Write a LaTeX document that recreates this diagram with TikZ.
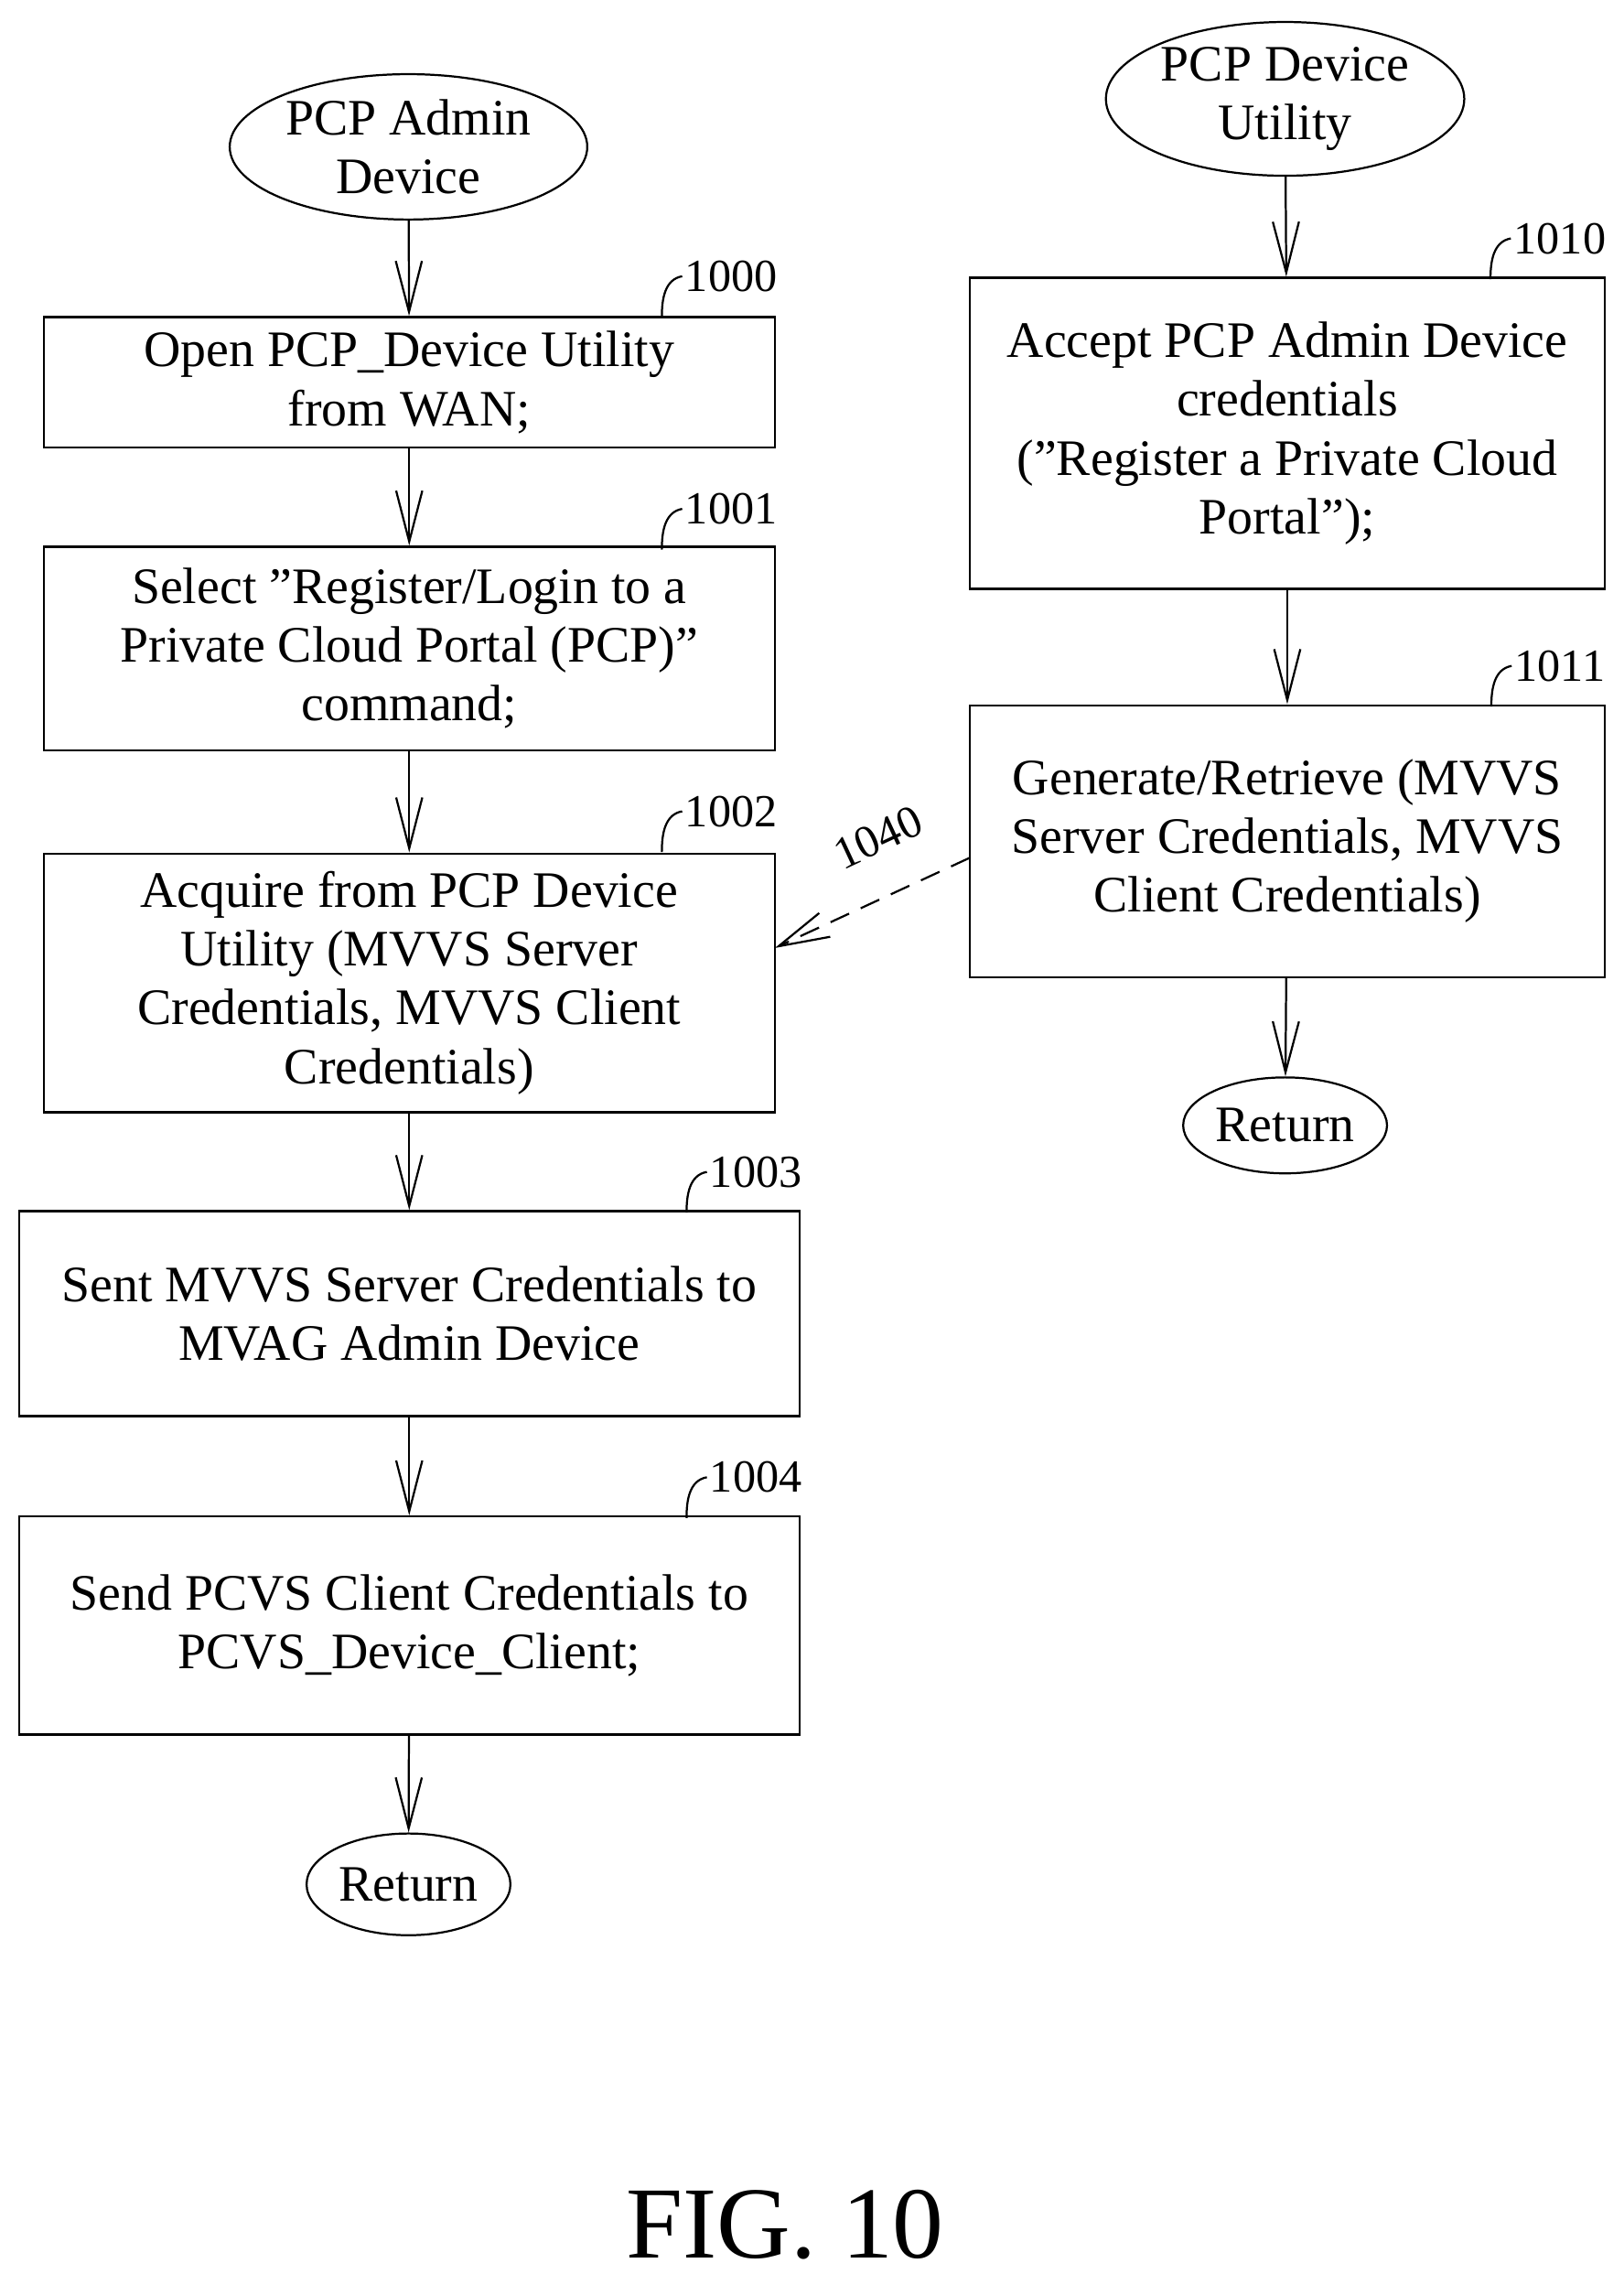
\documentclass[tikz,border=0pt]{standalone}
\usepackage{fontspec}
\setmainfont{Liberation Serif}
\usetikzlibrary{arrows.meta,shapes.geometric}
\newcommand\qt{\symbol{34}}
\begin{document}
\begin{tikzpicture}[x=0.02cm,y=-0.02cm,
  every node/.style={font=\fontsize{20}{23}\selectfont},
  box/.style={draw, thick, rectangle, align=center, inner sep=0pt},
  term/.style={draw, thick, ellipse, align=center, inner sep=1pt},
  ref/.style={font=\fontsize{18}{20}\selectfont, inner sep=1pt},
  flow/.style={thick, -{Straight Barb[length=7mm,width=3.6mm]}}]
  \useasboundingbox (0,0) rectangle (1117,1564);
  % left column
  \node (admin) at (281,101) [term, minimum width=4.92cm, minimum height=2cm] {PCP Admin\\Device};
  \node (s1000) at (281.5,263) [box, minimum width=10.06cm, minimum height=1.8cm] {Open PCP\_Device Utility\\from WAN;};
  \node (s1001) at (281.5,446) [box, minimum width=10.06cm, minimum height=2.8cm] {Select \qt Register/Login to a\\Private Cloud Portal (PCP)\qt\\command;};
  \node (s1002) at (281.5,676) [box, minimum width=10.06cm, minimum height=3.56cm] {Acquire from PCP Device\\Utility (MVVS Server\\Credentials, MVVS Client\\Credentials)};
  \node (s1003) at (281.5,903.5) [box, minimum width=10.74cm, minimum height=2.82cm] {Sent MVVS Server Credentials to\\MVAG Admin Device};
  \node (s1004) at (281.5,1118) [box, minimum width=10.74cm, minimum height=3cm] {Send PCVS Client Credentials to\\PCVS\_Device\_Client;};
  \node (ret1) at (281,1296) [term, minimum width=2.68cm, minimum height=1.4cm] {Return};
  % right column
  \node (util) at (884,68) [term, minimum width=4.8cm, minimum height=2cm] {PCP Device\\Utility};
  \node (s1010) at (885.5,298) [box, minimum width=8.74cm, minimum height=4.28cm] {Accept PCP Admin Device\\credentials\\(\qt Register a Private Cloud\\Portal\qt);};
  \node (s1011) at (885.5,578.5) [box, minimum width=8.74cm, minimum height=3.74cm] {Generate/Retrieve (MVVS\\Server Credentials, MVVS\\Client Credentials)};
  \node (ret2) at (884,774) [term, minimum width=2.68cm, minimum height=1.32cm] {Return};
  \foreach \source/\dest in {admin/s1000, s1000/s1001, s1001/s1002, s1002/s1003, s1003/s1004, s1004/ret1, util/s1010, s1010/s1011, s1011/ret2}
    \draw[flow] (\source) -- (\dest);
  \coordinate (d1) at (667,590);
  \coordinate (d2) at (533,652);
  \draw[flow, dash pattern=on 8pt off 5pt] (d1) -- (d2);
  \node[ref, rotate=25] (l1040) at (604,576) {1040};
  % reference numerals
  \foreach \num/\px/\py in {1000/503/190, 1001/503/350, 1002/503/558, 1003/520/806, 1004/520/1016, 1010/1073/164, 1011/1073/458}
  {
    \node[ref] (n\num) at (\px,\py) {\num};
    \draw[thick] (n\num.west) to[out=190,in=90] ++(-14,28);
  }
  \node (fig) at (540,1530) [font=\fontsize{40}{44}\selectfont] {FIG. 10};
\end{tikzpicture}
\end{document}
